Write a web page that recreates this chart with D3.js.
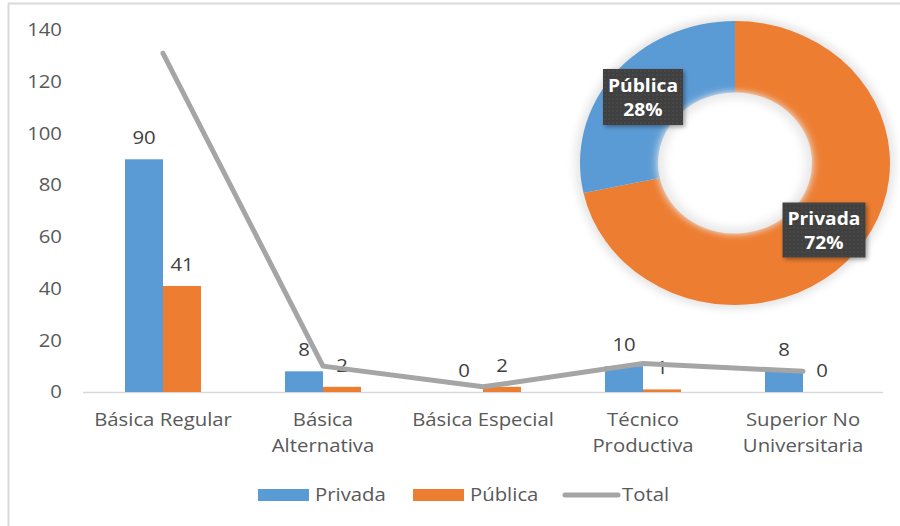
<!DOCTYPE html>
<html>
<head>
<meta charset="utf-8">
<script src="https://cdn.jsdelivr.net/npm/d3@7"></script>
<style>
  body { margin: 0; background: #fff; }
  svg text { font-family: "Open Sans", "Noto Sans", sans-serif; }
</style>
</head>
<body>
<div id="chart"></div>
<script>
// data
var categories = [["Básica Regular"], ["Básica", "Alternativa"], ["Básica Especial"], ["Técnico", "Productiva"], ["Superior No", "Universitaria"]];
var privada = [90, 8, 0, 10, 8];
var publica = [41, 2, 2, 1, 0];
var total = [131, 10, 2, 11, 8];
var yTicks = [0, 20, 40, 60, 80, 100, 120, 140];
var seriesNames = ["Privada", "Pública", "Total"];

var svgWidth = 900;
var svgHeight = 526;
var stretch = 1.13; // the text in the picture is a bit wide

var margin = { top: 30, right: 17, bottom: 134, left: 83 };
var width = svgWidth - margin.left - margin.right;
var height = svgHeight - margin.top - margin.bottom;

var blue = "#5b9bd5", orange = "#ed7d31", grey = "#a5a5a5";

var svg = d3.select("#chart")
  .append("svg")
  .attr("width", svgWidth)
  .attr("height", svgHeight);

function place(sel, x, y) {
  sel.attr("transform", `translate(${x}, ${y}) scale(${stretch}, 1)`);
}

// the frame (only top and left edges show)
svg.append("line").attr("x1", 8).attr("x2", 900).attr("y1", 3.5).attr("y2", 3.5)
  .attr("stroke", "#d9d9d9").attr("stroke-width", 2);
svg.append("line").attr("x1", 8.5).attr("x2", 8.5).attr("y1", 3).attr("y2", 526)
  .attr("stroke", "#d9d9d9").attr("stroke-width", 2);

var chartGroup = svg.append("g")
  .attr("transform", `translate(${margin.left}, ${margin.top})`);

var xScale = d3.scaleBand()
  .domain(d3.range(categories.length))
  .range([0, width]);

var xInner = d3.scaleBand()
  .domain([0, 1])
  .range([0, 76]);

var yScale = d3.scaleLinear()
  .domain([0, 140])
  .range([height, 0]);

// y axis labels
var leftAxis = d3.axisLeft(yScale).tickValues(yTicks).tickSize(0).tickPadding(21);
var yAxisG = chartGroup.append("g").call(leftAxis);
yAxisG.select(".domain").remove();
yAxisG.selectAll("text")
  .attr("x", -21 / stretch)
  .attr("transform", `scale(${stretch}, 1)`)
  .attr("fill", "#595959")
  .style("font-size", "18px")
  .style("font-family", "Open Sans");

// baseline
chartGroup.append("line")
  .attr("x1", 0).attr("x2", width)
  .attr("y1", yScale(0) + 0.5).attr("y2", yScale(0) + 0.5)
  .attr("stroke", "#d9d9d9").attr("stroke-width", 1.5);

// bars
var groups = chartGroup.selectAll(".cat")
  .data(categories.map(function(c, i) { return { i: i, vals: [privada[i], publica[i]] }; }))
  .enter()
  .append("g")
  .attr("transform", d => `translate(${xScale(d.i) + xScale.bandwidth() / 2 - 38}, 0)`);

groups.selectAll("rect")
  .data(d => d.vals)
  .enter()
  .append("rect")
  .attr("x", (d, j) => xInner(j))
  .attr("y", d => yScale(d))
  .attr("width", xInner.bandwidth())
  .attr("height", d => yScale(0) - yScale(d))
  .attr("fill", (d, j) => j === 0 ? blue : orange);

// total line
var line = d3.line()
  .x((d, i) => xScale(i) + xScale.bandwidth() / 2)
  .y(d => yScale(d));

chartGroup.append("path")
  .datum(total)
  .attr("d", line)
  .attr("fill", "none")
  .attr("stroke", grey)
  .attr("stroke-width", 5)
  .attr("stroke-linecap", "round")
  .attr("stroke-linejoin", "round");

// bar value labels
groups.selectAll(".val")
  .data(d => d.vals)
  .enter()
  .append("text")
  .each(function(d, j) {
    place(d3.select(this), xInner(j) + xInner.bandwidth() / 2, yScale(d) - 15);
  })
  .attr("text-anchor", "middle")
  .attr("fill", "#404040")
  .style("font-size", "18px")
  .text(d => d);

// category labels
var catText = chartGroup.selectAll(".catlabel")
  .data(categories)
  .enter()
  .append("text")
  .each(function(d, i) {
    place(d3.select(this), xScale(i) + xScale.bandwidth() / 2, height + 34);
  })
  .attr("text-anchor", "middle")
  .attr("fill", "#595959")
  .style("font-size", "18px");

catText.selectAll("tspan")
  .data(d => d)
  .enter()
  .append("tspan")
  .attr("x", 0)
  .attr("dy", (d, k) => k === 0 ? 0 : 26)
  .text(d => d);

// legend
var legend = svg.append("g").attr("transform", "translate(258, 495)");
var legendX = [0, 155, 305];
seriesNames.forEach(function(name, i) {
  var g = legend.append("g").attr("transform", `translate(${legendX[i]}, 0)`);
  if (i < 2) {
    g.append("rect").attr("x", 0).attr("y", -6).attr("width", 51).attr("height", 12)
      .attr("fill", i === 0 ? blue : orange);
  } else {
    g.append("line").attr("x1", 2).attr("x2", 55).attr("y1", 0).attr("y2", 0)
      .attr("stroke", grey).attr("stroke-width", 5).attr("stroke-linecap", "round");
  }
  var t = g.append("text")
    .attr("fill", "#595959")
    .style("font-size", "18px")
    .text(name);
  place(t, i < 2 ? 57 : 59, 6);
});

// donut of totals by type
var pieData = [
  { name: "Privada", value: d3.sum(privada), color: orange },
  { name: "Pública", value: d3.sum(publica), color: blue }
];
var pieSum = d3.sum(pieData, d => d.value);

var defs = svg.append("defs");
var blur = defs.append("filter").attr("id", "soft").attr("x", "-20%").attr("y", "-20%").attr("width", "140%").attr("height", "140%");
blur.append("feGaussianBlur").attr("stdDeviation", 4);
var shadow = defs.append("filter").attr("id", "boxshadow").attr("x", "-20%").attr("y", "-20%").attr("width", "150%").attr("height", "150%");
shadow.append("feDropShadow").attr("dx", 2).attr("dy", 2).attr("stdDeviation", 2).attr("flood-color", "#000").attr("flood-opacity", 0.35);
var pat = defs.append("pattern").attr("id", "dots").attr("width", 4).attr("height", 4).attr("patternUnits", "userSpaceOnUse");
pat.append("rect").attr("width", 4).attr("height", 4).attr("fill", "#404040");
pat.append("circle").attr("cx", 2).attr("cy", 2).attr("r", 0.8).attr("fill", "#4d4d4d");

var donut = svg.append("g")
  .attr("transform", "translate(735, 163) scale(1, 0.916)");

donut.append("circle").attr("r", 160).attr("fill", "#e6e6e6").attr("filter", "url(#soft)");

var pie = d3.pie().sort(null).value(d => d.value);
var arc = d3.arc().innerRadius(77).outerRadius(155);

donut.selectAll("path")
  .data(pie(pieData))
  .enter()
  .append("path")
  .attr("d", arc)
  .attr("fill", d => d.data.color);

donut.append("circle").attr("r", 77.5).attr("fill", "#ececec").attr("filter", "url(#soft)");
donut.append("circle").attr("r", 70).attr("fill", "#fff").attr("filter", "url(#soft)");

// donut labels
var pieLabels = [
  { name: "Pública", cx: 643, cy: 97, w: 80, h: 56 },
  { name: "Privada", cx: 824, cy: 230, w: 83, h: 55 }
];
pieLabels.forEach(function(l) {
  var d = pieData.find(p => p.name === l.name);
  var g = svg.append("g").attr("transform", `translate(${l.cx}, ${l.cy})`);
  g.append("rect")
    .attr("x", -l.w / 2).attr("y", -l.h / 2)
    .attr("width", l.w).attr("height", l.h)
    .attr("fill", "url(#dots)")
    .attr("filter", "url(#boxshadow)");
  var t1 = g.append("text")
    .attr("text-anchor", "middle")
    .attr("fill", "#fff")
    .style("font-size", "17px")
    .style("font-weight", "bold")
    .text(l.name);
  place(t1, 0, -5);
  var t2 = g.append("text")
    .attr("text-anchor", "middle")
    .attr("fill", "#fff")
    .style("font-size", "17px")
    .style("font-weight", "bold")
    .text(Math.round(d.value / pieSum * 100) + "%");
  place(t2, 0, 19);
});
</script>
</body>
</html>
